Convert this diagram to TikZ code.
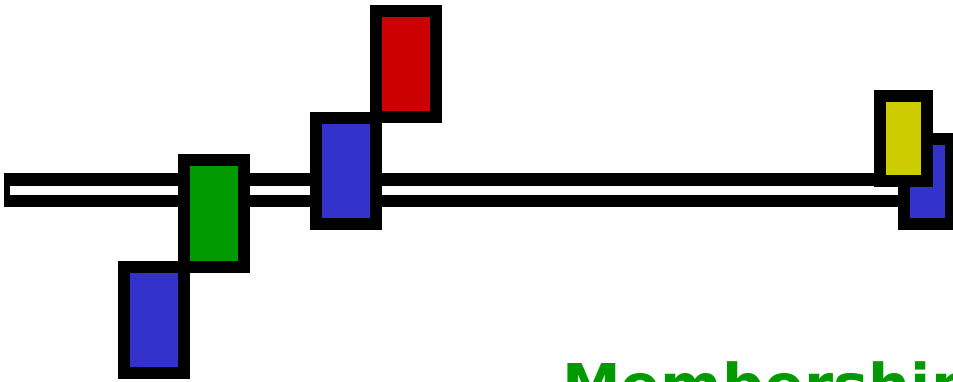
\documentclass[tikz,border=0pt]{standalone}
\usepackage{fontspec}
\setmainfont{DejaVu Sans}
\definecolor{cgreen}{HTML}{009900}
\definecolor{cred}{HTML}{CC0000}
\definecolor{cblue}{HTML}{3333CC}
\definecolor{cyellow}{HTML}{CCCC00}
\tikzset{
  blk/.style={draw=black, line width=12pt, rectangle, inner sep=0pt, outer sep=0pt,
    minimum width=60pt, minimum height=106pt},
  smallblk/.style={blk, minimum width=47pt, minimum height=85pt},
  label/.style={text=cgreen, font=\fontsize{59}{70}\selectfont\bfseries, inner sep=0pt, anchor=base west}
}
\begin{document}
\begin{tikzpicture}[x=1pt,y=-1pt]
\useasboundingbox (0,0) rectangle (953,381);
\clip (0,0) rectangle (953,381);
% bar
\node (bar) [fill=black, inner sep=0pt, outer sep=0pt, minimum width=901pt, minimum height=34pt, anchor=north west] at (4,173) {};
\node (barin) [fill=white, inner sep=0pt, outer sep=0pt, minimum width=895pt, minimum height=9pt, anchor=north west] at (10,186) {};
% boxes
\node (blue1) [blk, fill=cblue] at (154,320) {};
\node (green) [blk, fill=cgreen, minimum height=107pt] at (214,213.5) {};
\node (blue2) [blk, fill=cblue] at (346,171) {};
\node (red) [blk, fill=cred] at (406,64) {};
\node (blue3) [smallblk, fill=cblue] at (927.5,181.5) {};
\node (yellow) [smallblk, fill=cyellow] at (903.5,138.5) {};
% text
\node (title) [label] at (562,406) {Membership};
\end{tikzpicture}
\end{document}
